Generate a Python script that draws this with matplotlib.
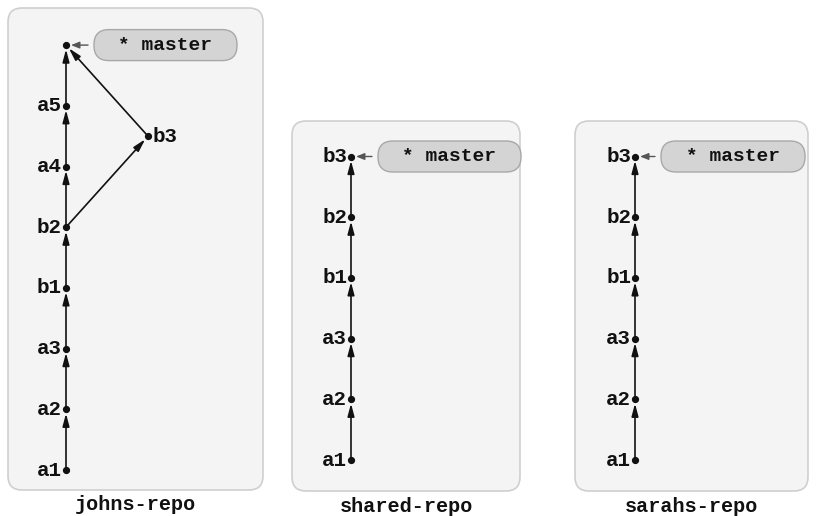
import matplotlib
matplotlib.use("Agg")
import matplotlib.pyplot as plt
from matplotlib.patches import FancyBboxPatch

# ---- data ----
repo_names = ["johns-repo", "shared-repo", "sarahs-repo"]
# commits per repo: (label, row, column)
johns_commits = [("a1", 0, 0), ("a2", 1, 0), ("a3", 2, 0), ("b1", 3, 0),
                 ("b2", 4, 0), ("a4", 5, 0), ("a5", 6, 0), ("", 7, 0), ("b3", 5.5, 1)]
johns_edges = [("a1", "a2"), ("a2", "a3"), ("a3", "b1"), ("b1", "b2"),
               ("b2", "a4"), ("a4", "a5"), ("a5", ""), ("b2", "b3"), ("b3", "")]
shared_commits = [("a1", 0, 0), ("a2", 1, 0), ("a3", 2, 0), ("b1", 3, 0),
                  ("b2", 4, 0), ("b3", 5, 0)]
shared_edges = [("a1", "a2"), ("a2", "a3"), ("a3", "b1"), ("b1", "b2"), ("b2", "b3")]
sarahs_commits = list(shared_commits)
sarahs_edges = list(shared_edges)
branch_label = "* master"
master_commit = ["", "b3", "b3"]

# ---- layout (pixel space) ----
W, H = 821, 516
fig = plt.figure(figsize=(W / 100, H / 100), dpi=100)
ax = fig.add_axes([0, 0, 1, 1])
ax.set_xlim(0, W)
ax.set_ylim(H, 0)
ax.axis("off")

panels = [
    dict(box=(8, 8, 255, 482), x0=66, y0=470, pill=(94, 237)),
    dict(box=(292, 121, 228, 370), x0=351, y0=460, pill=(378, 521)),
    dict(box=(575, 121, 233, 370), x0=635, y0=460, pill=(661, 805)),
]
row_h = 60.7
col_w = 82
mono = "Liberation Mono"
fs_lab = 15
fs_title = 14.5
fs_pill = 14

datasets = [(johns_commits, johns_edges), (shared_commits, shared_edges),
            (sarahs_commits, sarahs_edges)]

for p, (commits, edges), name, mc in zip(panels, datasets, repo_names, master_commit):
    bx, by, bw, bh = p["box"]
    ax.add_patch(FancyBboxPatch((bx, by), bw, bh,
                                boxstyle="round,pad=0,rounding_size=14",
                                fc="#f4f4f4", ec="#cfcfcf", lw=1.2, zorder=0))
    ax.text(bx + bw / 2, by + bh + 15, name, ha="center", va="center",
            fontfamily=mono, fontweight="bold", fontsize=fs_title, color="#111111")
    pos = {}
    for lab, row, col in commits:
        x = p["x0"] + col * col_w
        y = p["y0"] - row * row_h
        pos[lab] = (x, y)
        ax.plot([x], [y], "o", ms=4.2, color="#111111", zorder=4)
        if lab:
            if col == 0:
                ax.text(x - 4, y, lab, ha="right", va="center",
                        fontfamily=mono, fontweight="bold", fontsize=fs_lab,
                        color="#111111")
            else:
                ax.text(x + 5, y, lab, ha="left", va="center",
                        fontfamily=mono, fontweight="bold", fontsize=fs_lab,
                        color="#111111")
    for a, b in edges:
        (xa, ya), (xb, yb) = pos[a], pos[b]
        ax.annotate("", xy=(xb, yb), xytext=(xa, ya),
                    arrowprops=dict(arrowstyle="-|>,head_length=0.75,head_width=0.2",
                                    color="#111111", lw=1.2,
                                    shrinkA=2, shrinkB=3), zorder=3)
    # master pill
    mx, my = pos[mc]
    px0, px1 = p["pill"]
    ph = 31
    ax.add_patch(FancyBboxPatch((px0, my - ph / 2), px1 - px0, ph,
                                boxstyle="round,pad=0,rounding_size=15",
                                fc="#d4d4d4", ec="#a8a8a8", lw=1.0, zorder=2))
    ax.text((px0 + px1) / 2, my, branch_label, ha="center", va="center",
            fontfamily=mono, fontweight="bold", fontsize=fs_pill, color="#111111",
            zorder=5)
    ax.annotate("", xy=(mx + 5, my), xytext=(px0 - 6, my),
                arrowprops=dict(arrowstyle="-|>,head_length=0.5,head_width=0.2",
                                color="#555555", lw=1.0, shrinkA=0, shrinkB=0),
                zorder=3)

fig.savefig("out.png", dpi=100, facecolor="white")
